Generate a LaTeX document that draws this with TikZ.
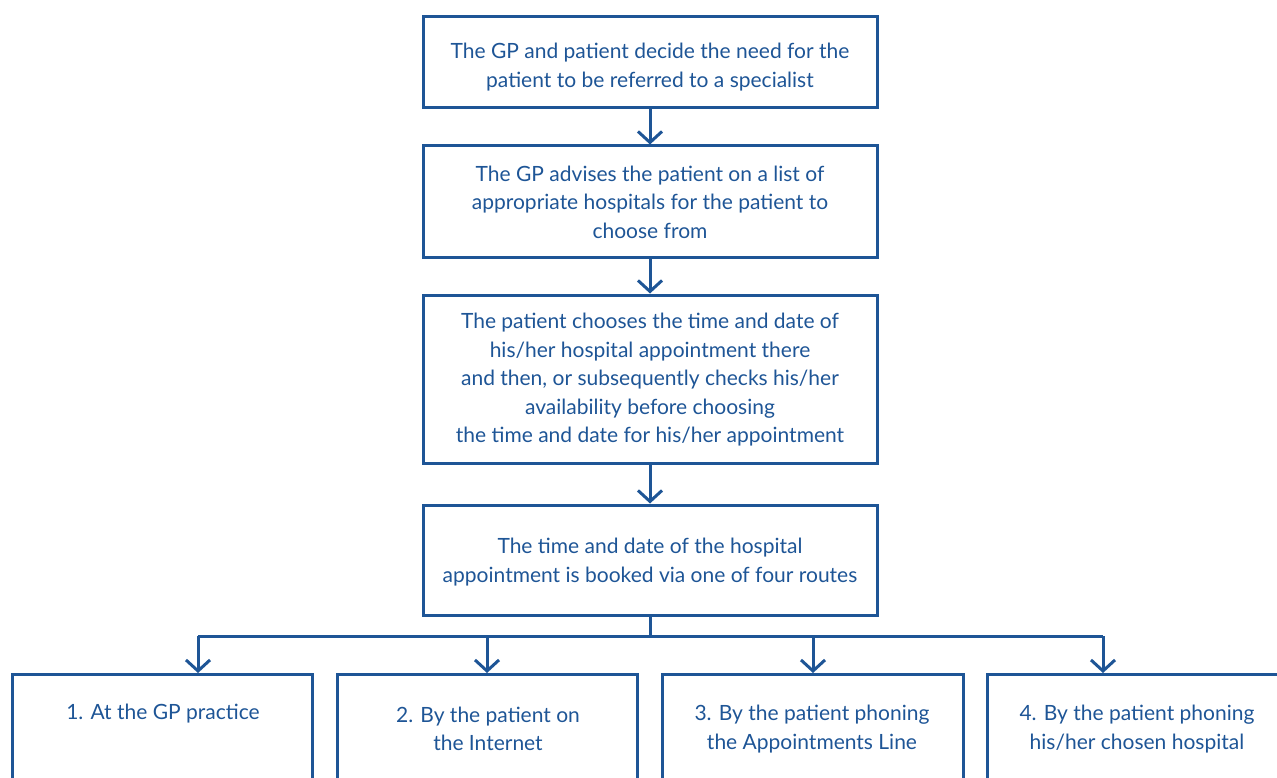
\documentclass[tikz,border=0pt]{standalone}
\usepackage{fontspec}
\setmainfont{Lato}
\usetikzlibrary{arrows.meta}
\definecolor{nhsblue}{HTML}{1E5596}
\tikzset{
  box/.style={draw=nhsblue, line width=3pt, rectangle, inner sep=0pt, minimum width=454pt},
  txt/.style={text=nhsblue, align=center, font=\fontsize{21pt}{28.5pt}\selectfont, inner sep=0pt},
  conn/.style={draw=nhsblue, line width=3pt},
  arr/.style={conn, -{Straight Barb[length=11pt,width=24pt]}},
}
\begin{document}
\begin{tikzpicture}[x=1pt,y=-1pt]
\useasboundingbox (0,0) rectangle (1277,778);
% main boxes
\node[box, minimum height=91pt] (b1) at (650,62.5) {};
\node[box, minimum height=111pt] (b2) at (650,201.5) {};
\node[box, minimum height=168pt] (b3) at (650,379) {};
\node[box, minimum height=110pt] (b4) at (650,560) {};
\node[txt] (t1) at (650,67) {The GP and patient decide the need for the\\patient to be referred to a specialist};
\node[txt] (t2) at (650,202) {The GP advises the patient on a list of\\appropriate hospitals for the patient to\\choose from};
\node[txt] (t3) at (650,380) {The patient chooses the time and date of\\his/her hospital appointment there\\and then, or subsequently checks his/her\\availability before choosing\\the time and date for his/her appointment};
\node[txt] (t4) at (650,562) {The time and date of the hospital\\appointment is booked via one of four routes};
% bottom boxes (run off the page bottom)
\node[box, minimum width=300pt, minimum height=140pt, anchor=north] (r1) at (162,673) {};
\node[box, minimum width=300pt, minimum height=140pt, anchor=north] (r2) at (487,673) {};
\node[box, minimum width=301pt, minimum height=140pt, anchor=north] (r3) at (812.5,673) {};
\node[box, minimum width=300pt, minimum height=140pt, anchor=north] (r4) at (1137,673) {};
\node[txt] (s1) at (163,714) {1. At the GP practice};
\node[txt] (s2) at (488,729) {2. By the patient on\\the Internet};
\node[txt] (s3) at (812,729) {3. By the patient phoning\\the Appointments Line};
\node[txt] (s4) at (1137,729) {4. By the patient phoning\\his/her chosen hospital};
% connectors
\draw[arr] (b1) -- (b2);
\draw[arr] (b2) -- (b3);
\draw[arr] (b3) -- (b4);
\coordinate (bus) at (650,636);
\coordinate (j1) at (198,636);
\coordinate (j2) at (487,636);
\coordinate (j3) at (813,636);
\coordinate (j4) at (1103,636);
\draw[conn] (b4.south) -- (bus);
\draw[conn] (j1) -- (j4);
\draw[arr] (j1) -- (j1 |- r1.north);
\draw[arr] (j2) -- (j2 |- r2.north);
\draw[arr] (j3) -- (j3 |- r3.north);
\draw[arr] (j4) -- (j4 |- r4.north);
\end{tikzpicture}
\end{document}
